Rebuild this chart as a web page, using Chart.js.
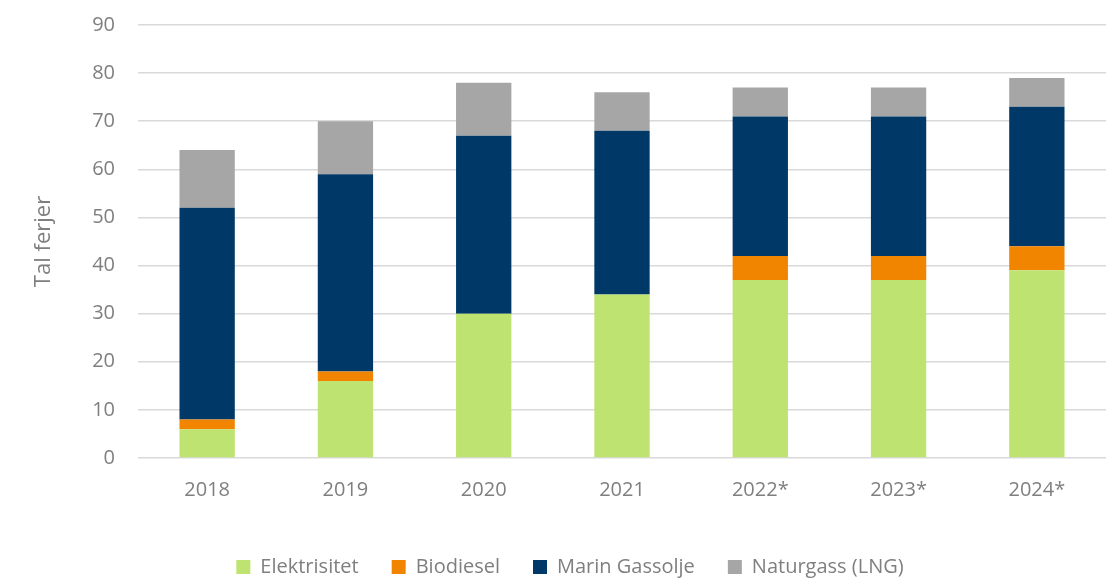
<!DOCTYPE html>
<html lang="no">
<head>
  <meta charset="UTF-8">
  <title>Tal ferjer</title>
  <style>
    html, body { margin: 0; padding: 0; background: white; }
    #wrap { width: 1109px; height: 579px; }
  </style>
  <script src="https://cdn.jsdelivr.net/npm/chart.js@4/dist/chart.umd.js"></script>
</head>
<body>
  <div id="wrap"><canvas id="ferjeChart" width="1109" height="579"></canvas></div>
  <script>
    const years = ['2018', '2019', '2020', '2021', '2022*', '2023*', '2024*'];
    const elektrisitet = [6, 16, 30, 34, 37, 37, 39];
    const biodiesel = [2, 2, 0, 0, 5, 5, 5];
    const marinGassolje = [44, 41, 37, 34, 29, 29, 29];
    const naturgass = [12, 11, 11, 8, 6, 6, 6];
    const yTicks = [0, 10, 20, 30, 40, 50, 60, 70, 80, 90];

    const grey = '#7f7f7f';
    const font = 'Open Sans';
    const series = [
      { label: 'Elektrisitet', data: elektrisitet, color: '#bee370' },
      { label: 'Biodiesel', data: biodiesel, color: '#f28500' },
      { label: 'Marin Gassolje', data: marinGassolje, color: '#003967' },
      { label: 'Naturgass (LNG)', data: naturgass, color: '#a6a6a6' }
    ];

    new Chart(document.getElementById('ferjeChart'), {
      type: 'bar',
      data: {
        labels: years,
        datasets: series.map(s => ({
          label: s.label, data: s.data, backgroundColor: s.color,
          borderWidth: 0, barPercentage: 0.8, categoryPercentage: 0.5
        }))
      },
      options: {
        responsive: false,
        animation: false,
        // left padding pushes the centred legend right like the reference
        layout: { padding: { top: 25, right: 3, bottom: -8, left: 34 } },
        scales: {
          x: {
            stacked: true,
            grid: { display: false },
            border: { display: false },
            ticks: { color: grey, font: { family: font, size: 20 }, padding: 12 },
            afterFit: s => { s.height = 66; }
          },
          y: {
            stacked: true,
            min: 0, max: 90,
            afterBuildTicks: s => { s.ticks = yTicks.map(v => ({ value: v })); },
            grid: { color: '#d9d9d9', lineWidth: 1.5, drawTicks: false },
            border: { display: false },
            ticks: { color: grey, font: { family: font, size: 20 }, padding: 23 },
            title: {
              display: true, text: 'Tal ferjer', color: grey,
              font: { family: font, size: 22 }, padding: { top: -3, bottom: 0 }
            },
            afterFit: s => { s.width = 104; s.paddingTop = 0; s.paddingBottom = 0; }
          }
        },
        plugins: {
          legend: {
            position: 'bottom',
            labels: {
              color: grey, font: { family: font, size: 20 },
              boxWidth: 14, boxHeight: 14, padding: 33
            }
          },
          tooltip: { enabled: false }
        }
      }
    });
  </script>
</body>
</html>
